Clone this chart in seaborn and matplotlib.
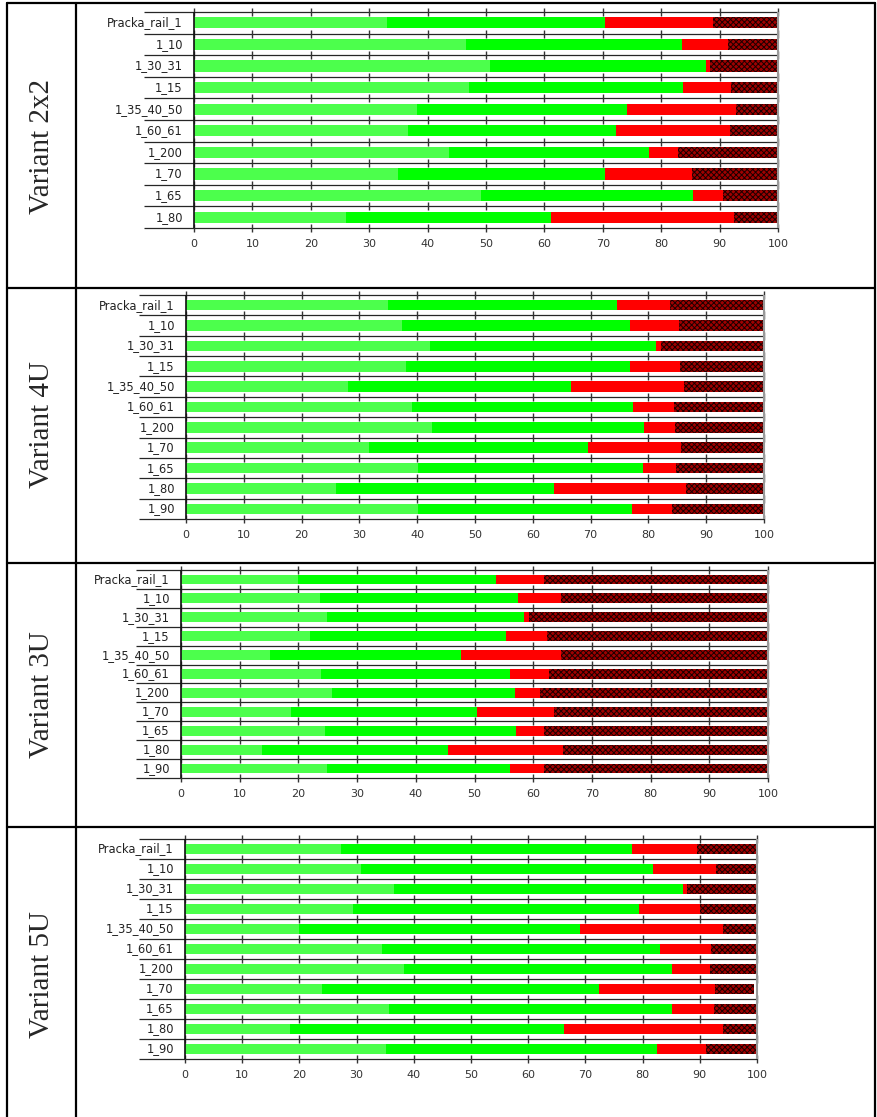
import numpy as np
import pandas as pd
import matplotlib
matplotlib.use("Agg")
import matplotlib.pyplot as plt
from matplotlib.lines import Line2D
import seaborn as sns

# ---------------- data ----------------
cats_2x2 = ["Pracka_rail_1", "1_10", "1_30_31", "1_15", "1_35_40_50", "1_60_61",
            "1_200", "1_70", "1_65", "1_80"]
cats_11 = ["Pracka_rail_1", "1_10", "1_30_31", "1_15", "1_35_40_50", "1_60_61",
           "1_200", "1_70", "1_65", "1_80", "1_90"]

# segment widths (percent): light green, green, red, dark red (hatched)
light_2x2 = [33.0, 46.5, 50.6, 47.1, 38.1, 36.6, 43.6, 35.0, 49.1, 26.0]
green_2x2 = [37.3, 37.0, 37.0, 36.6, 36.0, 35.7, 34.3, 35.4, 36.4, 35.1]
red_2x2 = [18.5, 8.0, 0.8, 8.2, 18.7, 19.4, 5.0, 14.9, 5.1, 31.4]
dark_2x2 = [11.2, 8.5, 11.6, 8.1, 7.2, 8.3, 17.1, 14.7, 9.4, 7.5]

light_4u = [34.9, 37.4, 42.2, 38.1, 28.1, 39.1, 42.5, 31.6, 40.2, 26.0, 40.2]
green_4u = [39.7, 39.5, 39.1, 38.8, 38.5, 38.2, 36.8, 37.9, 38.9, 37.6, 36.9]
red_4u = [9.1, 8.4, 0.8, 8.6, 19.6, 7.2, 5.3, 16.1, 5.6, 22.9, 7.0]
dark_4u = [16.3, 14.7, 17.9, 14.5, 13.8, 15.5, 15.4, 14.4, 15.3, 13.5, 15.9]

light_3u = [20.0, 23.6, 24.9, 22.0, 15.2, 23.8, 25.8, 18.8, 24.5, 13.8, 24.8]
green_3u = [33.7, 33.8, 33.6, 33.3, 32.5, 32.2, 31.1, 31.7, 32.6, 31.7, 31.2]
red_3u = [8.2, 7.3, 0.7, 7.1, 17.0, 6.7, 4.3, 13.1, 4.8, 19.5, 5.9]
dark_3u = [38.1, 35.3, 40.8, 37.6, 35.3, 37.3, 38.8, 36.4, 38.1, 35.0, 38.1]

light_5u = [27.2, 30.7, 36.5, 29.3, 20.0, 34.4, 38.2, 23.9, 35.7, 18.4, 35.1]
green_5u = [51.0, 51.1, 50.5, 50.1, 49.1, 48.6, 46.9, 48.4, 49.4, 47.9, 47.5]
red_5u = [11.3, 11.0, 0.8, 10.6, 24.9, 9.0, 6.7, 20.4, 7.3, 27.7, 8.5]
dark_5u = [10.5, 7.2, 12.2, 10.0, 6.0, 8.0, 8.2, 6.8, 7.6, 6.0, 8.9]

variant_labels = ["Variant 2x2", "Variant 4U", "Variant 3U", "Variant 5U"]
x_ticks = list(range(0, 101, 10))

# ---------------- style ----------------
sns.set_style("white")
plt.rcParams["font.family"] = ["DejaVu Sans"]
plt.rcParams["hatch.linewidth"] = 0.7

W, H = 877, 1117
fig = plt.figure(figsize=(W / 100, H / 100), dpi=100)
fig.patch.set_facecolor("white")

C_LIGHT = "#4cff4c"
C_GREEN = "#00ff00"
C_RED = "#ff0000"
C_DARK = "#a00000"

# pixel geometry for each panel: x0 (value 0), x1 (value 100), top, bottom, line-left
geoms = [
    (194, 778, 12, 228, 144),
    (186, 764, 295, 519, 139),
    (181, 768, 570, 778, 136),
    (185, 757, 839, 1059, 139),
]
panels = [
    (cats_2x2, light_2x2, green_2x2, red_2x2, dark_2x2),
    (cats_11, light_4u, green_4u, red_4u, dark_4u),
    (cats_11, light_3u, green_3u, red_3u, dark_3u),
    (cats_11, light_5u, green_5u, red_5u, dark_5u),
]


def draw_panel(ax, cats, light, green, red, dark, xleft_units):
    n = len(cats)
    c1 = np.array(light)
    c2 = c1 + np.array(green)
    c3 = c2 + np.array(red)
    c4 = c3 + np.array(dark)
    bw = 0.52
    sns.barplot(x=c4, y=cats, order=cats, orient="h", color=C_DARK,
                saturation=1, width=bw, edgecolor="#1a0000", linewidth=0,
                hatch="xxxxxx", ax=ax, zorder=3)
    sns.barplot(x=c3, y=cats, order=cats, orient="h", color=C_RED,
                saturation=1, width=bw, linewidth=0, ax=ax, zorder=3)
    sns.barplot(x=c2, y=cats, order=cats, orient="h", color=C_GREEN,
                saturation=1, width=bw, linewidth=0, ax=ax, zorder=3)
    sns.barplot(x=c1, y=cats, order=cats, orient="h", color=C_LIGHT,
                saturation=1, width=bw, linewidth=0, ax=ax, zorder=3)

    bounds = np.arange(n + 1) - 0.5
    ax.hlines(bounds, xleft_units, 100, colors="#262626", lw=0.9,
              clip_on=False, zorder=2)
    for xt in x_ticks:
        ax.plot(np.full(n + 1, xt), bounds, ls="none", marker="|", ms=6,
                mew=1.0, color="#333333", clip_on=False, zorder=2)
    ax.vlines(0, -0.5, n - 0.5, colors="#111111", lw=1.2, clip_on=False,
              zorder=4)
    ax.vlines(100, -0.5, n - 0.5, colors="#999999", lw=1.5, clip_on=False,
              zorder=4)

    ax.set_xlim(0, 100)
    ax.set_ylim(n - 0.5, -0.5)
    ax.set_xticks(x_ticks)
    ax.set_xticklabels([str(t) for t in x_ticks])
    ax.set_xlabel("")
    ax.set_ylabel("")
    for s in ax.spines.values():
        s.set_visible(False)
    ax.tick_params(axis="x", length=0, pad=8, labelsize=8, labelcolor="#333333")
    ax.tick_params(axis="y", length=0, pad=8, labelsize=8.3, labelcolor="#222222")
    for lab in ax.get_yticklabels():
        lab.set_verticalalignment("center")
    ax.set_facecolor("none")


for (x0, x1, top, bot, lleft), (cats, l, g, r, d) in zip(geoms, panels):
    ax = fig.add_axes([x0 / W, 1 - bot / H, (x1 - x0) / W, (bot - top) / H])
    xleft_units = (lleft - x0) / (x1 - x0) * 100
    draw_panel(ax, cats, l, g, r, d, xleft_units)

# ---------------- table frame ----------------
def fline(xa, ya, xb, yb, lw=1.6):
    fig.add_artist(Line2D([xa / W, xb / W], [1 - ya / H, 1 - yb / H],
                          transform=fig.transFigure, color="black", lw=lw))

table_left, table_col, table_right = 7, 76, 875
row_lines = [3, 288, 563, 827]
for y in row_lines:
    fline(table_left, y, table_right, y)
for x in (table_left, table_col, table_right):
    fline(x, 3, x, H + 5)

label_centers = [147, 425, 695, 975]
for txt, yc in zip(variant_labels, label_centers):
    fig.text(42 / W, 1 - yc / H, txt, rotation=90, ha="center", va="center",
             fontsize=21, family=["Liberation Serif", "DejaVu Serif"])

fig.savefig("out.png", dpi=100, facecolor="white")
